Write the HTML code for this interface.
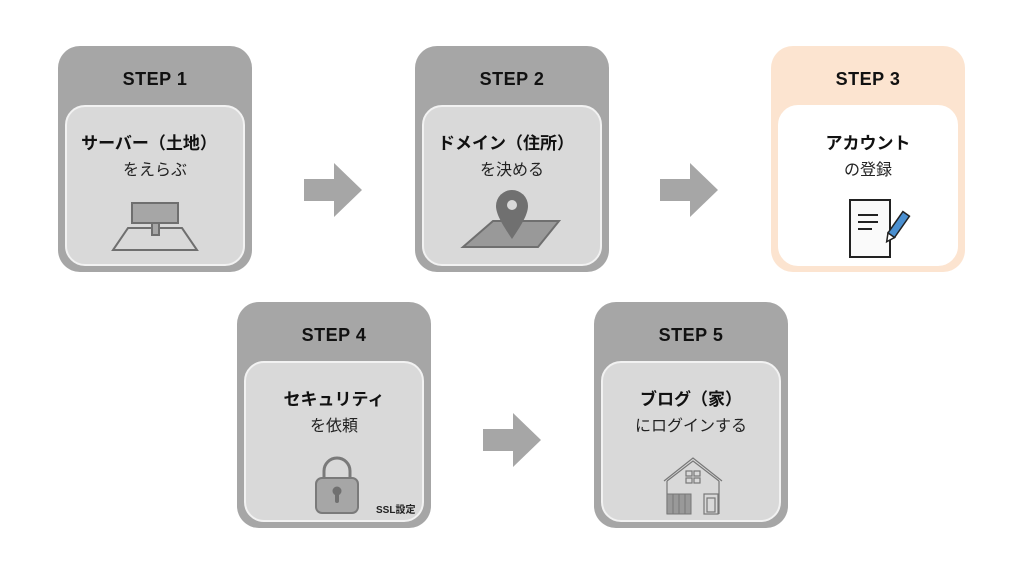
<!DOCTYPE html>
<html><head><meta charset="utf-8"><style>
body{margin:0;width:1024px;height:576px;background:#fff;position:relative;overflow:hidden;font-family:"Liberation Sans","Noto Sans CJK JP",sans-serif;}
.card{position:absolute;width:194px;height:226px;border-radius:22px;background:#a6a6a6;}
.card.o{background:#fce4d0;}
.step{position:absolute;top:23px;left:0;width:100%;text-align:center;font-weight:bold;font-size:18px;color:#111;letter-spacing:0.5px;}
.in{position:absolute;left:7px;top:59px;width:176px;height:157px;border-radius:20px;background:#d9d9d9;border:2px solid #f2f2f2;}
.card.o .in{background:#fff;border-color:#fff;}
.t1{position:absolute;top:22px;left:0;width:100%;text-align:center;font-weight:bold;font-size:17px;color:#111;}
.t2{position:absolute;top:49px;left:0;width:100%;text-align:center;font-size:16px;color:#222;}
.ar{position:absolute;}
svg{position:absolute;}
</style></head><body>

<div class="card" style="left:58px;top:46px"><div class="step">STEP 1</div><div class="in">
<div class="t1" style="left:-6px">サーバー（土地）</div><div class="t2">をえらぶ</div>
<svg style="left:0;top:0" width="176" height="157"><g fill="none" stroke="#6f6f6f" stroke-width="2"><polygon points="61,121 115,121 130,143 46,143"/><rect x="65" y="96" width="46" height="20" fill="#a6a6a6"/><rect x="85" y="116" width="7" height="12" fill="#a6a6a6"/></g></svg>
</div></div>

<div class="card" style="left:415px;top:46px"><div class="step">STEP 2</div><div class="in">
<div class="t1" style="left:-6px">ドメイン（住所）</div><div class="t2">を決める</div>
<svg style="left:0;top:0" width="176" height="157"><polygon points="69,114 135,114 114,140 39,140" fill="#999" stroke="#6f6f6f" stroke-width="2"/><path d="M88,132 C80,120 72,108 72,99 A16,16 0 0 1 104,99 C104,108 96,120 88,132Z" fill="#707070"/><circle cx="88" cy="98" r="5" fill="#d9d9d9"/></svg>
</div></div>

<div class="card o" style="left:771px;top:46px"><div class="step">STEP 3</div><div class="in">
<div class="t1">アカウント</div><div class="t2">の登録</div>
<svg style="left:0;top:0" width="176" height="157"><rect x="70" y="93" width="40" height="57" fill="#fafafa" stroke="#222" stroke-width="2"/><g stroke="#222" stroke-width="2"><line x1="78" y1="108" x2="98" y2="108"/><line x1="78" y1="115" x2="98" y2="115"/><line x1="78" y1="122" x2="92" y2="122"/></g><g transform="translate(117,120) rotate(35)"><rect x="-4" y="-16" width="8" height="26" fill="#4a8fd0" stroke="#222" stroke-width="1.5"/><polygon points="-4,10 4,10 0,18" fill="#fff" stroke="#222" stroke-width="1.5"/></g></svg>
</div></div>

<div class="card" style="left:237px;top:302px"><div class="step">STEP 4</div><div class="in">
<div class="t1">セキュリティ</div><div class="t2">を依頼</div>
<svg style="left:0;top:0" width="176" height="157"><path d="M78,116 V108 A13,13 0 0 1 104,108 V116" fill="none" stroke="#7a7a7a" stroke-width="3"/><rect x="70" y="115" width="42" height="35" rx="6" fill="#a6a6a6" stroke="#7a7a7a" stroke-width="2"/><circle cx="91" cy="128" r="4.5" fill="#707070"/><rect x="89" y="129" width="4" height="11" rx="2" fill="#707070"/><text x="130" y="150" font-size="10" font-weight="bold" fill="#222" font-family="Liberation Sans,Noto Sans CJK JP,sans-serif">SSL設定</text></svg>
</div></div>

<div class="card" style="left:594px;top:302px"><div class="step">STEP 5</div><div class="in">
<div class="t1">ブログ（家）</div><div class="t2">にログインする</div>
<svg style="left:0;top:0" width="176" height="157"><g fill="none" stroke="#777" stroke-width="1.2"><polyline points="61,118 90,95 119,118"/><polyline points="64,118 90,98 116,118"/><line x1="64" y1="118" x2="64" y2="151"/><line x1="116" y1="118" x2="116" y2="151"/><rect x="83" y="108" width="6" height="5"/><rect x="91" y="108" width="6" height="5"/><rect x="83" y="115" width="6" height="5"/><rect x="91" y="115" width="6" height="5"/><rect x="101" y="131" width="14" height="20"/><rect x="104" y="135" width="8" height="14"/></g><rect x="64" y="131" width="24" height="20" fill="#999" stroke="#777"/><g stroke="#777" stroke-width="1"><line x1="70" y1="131" x2="70" y2="151"/><line x1="76" y1="131" x2="76" y2="151"/><line x1="82" y1="131" x2="82" y2="151"/></g></svg>
</div></div>

<svg class="ar" style="left:304px;top:163px" width="60" height="54"><polygon points="0,16 30,16 30,0 58,27 30,54 30,38 0,38" fill="#a6a6a6"/></svg>
<svg class="ar" style="left:660px;top:163px" width="60" height="54"><polygon points="0,16 30,16 30,0 58,27 30,54 30,38 0,38" fill="#a6a6a6"/></svg>
<svg class="ar" style="left:483px;top:413px" width="60" height="54"><polygon points="0,16 30,16 30,0 58,27 30,54 30,38 0,38" fill="#a6a6a6"/></svg>
</body></html>
